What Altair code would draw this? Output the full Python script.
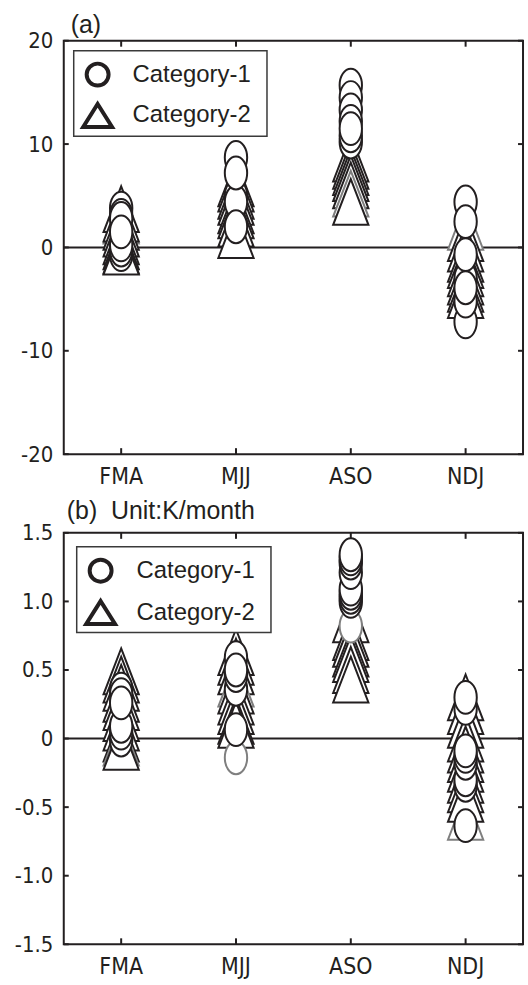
import altair as alt
import pandas as pd

seasons = ["FMA", "MJJ", "ASO", "NDJ"]

# ---------------- panel (a) ----------------
a_triangle = {
    "FMA": [2.6, 3.7, 2.8, 2.0, 1.35, 0.6, 0.1, -0.3, -0.4],
    "MJJ": [6.2, 5.7, 5.0, 4.4, 3.6, 3.1, 2.3, 1.2],
    "ASO": [8.6, 7.9, 7.3, 6.7, 6.0, 5.2, 4.4],
    "NDJ": [2.0, 0.9, -0.1, -1.1, -1.7, -2.5, -3.3, -4.0, -4.6],
}
a_triangle_gray = {"FMA": [0], "MJJ": [], "ASO": [5], "NDJ": [0]}
a_circle = {
    "FMA": [3.8, 3.1, 2.8, -0.7, -0.25, 0.25, 1.5],
    "MJJ": [8.7, 5.0, 4.4, 7.2, 2.0],
    "ASO": [15.7, 14.5, 13.3, 12.2, 10.2, 10.8, 11.5],
    "NDJ": [4.4, -7.2, -5.2, -3.0, 2.5, -0.7, -3.9],
}
a_circle_gray = {"FMA": [], "MJJ": [], "ASO": [], "NDJ": []}
a_ticks = [-20, -10, 0, 10, 20]

# ---------------- panel (b) ----------------
b_triangle = {
    "FMA": [0.49, 0.43, 0.37, 0.29, 0.23, 0.15, 0.08, 0.0, -0.03, -0.06],
    "MJJ": [0.63, 0.56, 0.49, 0.40, 0.35, 0.27, 0.2, 0.13, 0.1],
    "ASO": [0.87, 0.74, 0.69, 0.62, 0.58, 0.5, 0.43],
    "NDJ": [-0.57, 0.3, 0.2, 0.1, 0.0, -0.08, -0.15, -0.22, -0.3, -0.37, -0.44],
}
b_triangle_gray = {"FMA": [8], "MJJ": [3], "ASO": [], "NDJ": [0]}
b_circle = {
    "FMA": [0.36, 0.32, -0.01, 0.04, 0.09, 0.26],
    "MJJ": [0.59, 0.36, 0.46, -0.14, 0.5, 0.065],
    "ASO": [0.82, 1.0, 1.03, 1.06, 1.09, 1.21, 1.28, 1.31, 1.34],
    "NDJ": [0.22, 0.3, -0.34, -0.3, -0.18, -0.13, -0.09, -0.635],
}
b_circle_gray = {"FMA": [], "MJJ": [3], "ASO": [0], "NDJ": []}
b_ticks = [-1.5, -1.0, -0.5, 0, 0.5, 1.0, 1.5]

legend_labels = ["Category-1", "Category-2"]
panel_titles = ["(a)", "(b) \u00a0Unit:K/month"]

# ---------------- styling ----------------
DARK = "#231f20"
GRAY = "#7f7f7f"
FONT = "Liberation Sans, Arial, sans-serif"
NARROW = "Liberation Sans Narrow, Arial Narrow, DejaVu Sans Condensed, Liberation Sans, sans-serif"
W = 461

ELLIPSE = ("M0,-1 C0.3756,-1 0.68,-0.5523 0.68,0 C0.68,0.5523 0.3756,1 0,1 "
           "C-0.3756,1 -0.68,0.5523 -0.68,0 C-0.68,-0.5523 -0.3756,-1 0,-1 Z")
TRI = "M0,-1 L0.77,1 L-0.77,1 Z"
TRI_LEG = "M0,-1 L1.26,1 L-1.26,1 Z"


def marker_df(values, gray_idx):
    rows = []
    for s in seasons:
        for i, v in enumerate(values[s]):
            rows.append({"season": s, "value": v,
                         "tone": "g" if i in gray_idx.get(s, []) else "k",
                         "ord": len(rows)})
    return pd.DataFrame(rows)


def panel(circles, cgray, tris, tgray, domain, ticks, label_expr, H,
          title, title_dx, title_dy, leg, top_pad=False, bottom_pad=False):
    xaxis = alt.Axis(ticks=False, tickSize=0, domain=False, grid=False,
                     labelPadding=11, labelFont=NARROW, labelFontSize=23,
                     labelColor=DARK, labelAngle=0, title=None)
    yaxis = alt.Axis(values=ticks, labelExpr=label_expr, ticks=False, tickSize=0,
                     domain=False, grid=False, labelPadding=11, labelFont=NARROW,
                     labelFontSize=22, labelColor=DARK, labelFlush=False,
                     labelOverlap=False, title=None)
    xs = alt.Scale(domain=seasons)
    ys = alt.Scale(domain=domain, nice=False, zero=False)
    X = alt.X("season:N", scale=xs, sort=seasons, axis=xaxis)
    Y = alt.Y("value:Q", scale=ys, axis=yaxis)
    tone = alt.Stroke("tone:N", scale=alt.Scale(domain=["k", "g"], range=[DARK, GRAY]),
                      legend=None)

    tick_df = pd.DataFrame({"value": ticks})
    season_df = pd.DataFrame({"season": seasons})

    layers = []
    # zero line
    layers.append(alt.Chart(pd.DataFrame({"value": [0]})).mark_rule(
        color=DARK, strokeWidth=2).encode(y=Y, x=alt.value(0), x2=alt.value(W)))
    # inward ticks
    layers.append(alt.Chart(tick_df).mark_rule(color=DARK, strokeWidth=2).encode(
        y=Y, x=alt.value(0), x2=alt.value(5)))
    layers.append(alt.Chart(tick_df).mark_rule(color=DARK, strokeWidth=2).encode(
        y=Y, x=alt.value(W - 5), x2=alt.value(W)))
    layers.append(alt.Chart(season_df).mark_rule(color=DARK, strokeWidth=2).encode(
        x=X, y=alt.value(0), y2=alt.value(6)))
    layers.append(alt.Chart(season_df).mark_rule(color=DARK, strokeWidth=2).encode(
        x=X, y=alt.value(H - 6), y2=alt.value(H)))
    # triangles then circles
    layers.append(alt.Chart(marker_df(tris, tgray)).mark_point(
        shape=TRI, size=2116, fill="white", fillOpacity=1, opacity=1, strokeWidth=2,
        filled=False).encode(x=X, y=Y, stroke=tone, order=alt.Order("ord:Q")))
    layers.append(alt.Chart(marker_df(circles, cgray)).mark_point(
        shape=ELLIPSE, size=1089, fill="white", fillOpacity=1, opacity=1, strokeWidth=2,
        filled=False).encode(x=X, y=Y, stroke=tone, order=alt.Order("ord:Q")))
    # legend box
    lx0, ly0, lx1, ly1, sx, sy1, sy2, tx = leg
    one = pd.DataFrame({"k": [0]})
    layers.append(alt.Chart(one).mark_rect(fill="white", stroke="#3a3a3a",
                                           strokeWidth=1.5).encode(
        x=alt.value(lx0), x2=alt.value(lx1), y=alt.value(ly0), y2=alt.value(ly1)))
    layers.append(alt.Chart(pd.DataFrame({"label": [legend_labels[0]]})).mark_point(
        shape="circle", size=484, fill="white", fillOpacity=1, opacity=1,
        stroke=DARK, strokeWidth=4).encode(x=alt.value(sx), y=alt.value(sy1)))
    layers.append(alt.Chart(pd.DataFrame({"label": [legend_labels[1]]})).mark_point(
        shape=TRI_LEG, size=529, fill="white", fillOpacity=1, opacity=1,
        stroke=DARK, strokeWidth=4).encode(x=alt.value(sx), y=alt.value(sy2)))
    layers.append(alt.Chart(pd.DataFrame({"label": [legend_labels[0]]})).mark_text(
        font=FONT, fontSize=24, color=DARK, align="left", baseline="middle").encode(
        text="label:N", x=alt.value(tx), y=alt.value(sy1)))
    layers.append(alt.Chart(pd.DataFrame({"label": [legend_labels[1]]})).mark_text(
        font=FONT, fontSize=24, color=DARK, align="left", baseline="middle").encode(
        text="label:N", x=alt.value(tx), y=alt.value(sy2)))
    # panel title
    layers.append(alt.Chart(pd.DataFrame({"t": [title]})).mark_text(
        font=FONT, fontSize=25, color=DARK, align="left", baseline="middle").encode(
        text="t:N", x=alt.value(title_dx), y=alt.value(title_dy)))
    # invisible extent markers (white) fixing page margins
    if top_pad:
        layers.append(alt.Chart(one).mark_rule(color="white", strokeWidth=1).encode(
            x=alt.value(-62.5), x2=alt.value(-61.5), y=alt.value(-37.5), y2=alt.value(-37.5)))
        layers.append(alt.Chart(one).mark_rule(color="white", strokeWidth=1).encode(
            x=alt.value(W + 2.5), x2=alt.value(W + 3.5), y=alt.value(10), y2=alt.value(10)))
    if bottom_pad:
        layers.append(alt.Chart(one).mark_rule(color="white", strokeWidth=1).encode(
            x=alt.value(10), x2=alt.value(11), y=alt.value(H + 39.5), y2=alt.value(H + 39.5)))
    return alt.layer(*layers).properties(width=W, height=H)


label_a = "datum.value < 0 ? '-' + format(-datum.value, 'd') : format(datum.value, 'd')"
label_b = ("datum.value == 0 ? '0' : (datum.value < 0 ? '-' + format(-datum.value, '.1f')"
           " : format(datum.value, '.1f'))")

pa = panel(a_circle, a_circle_gray, a_triangle, a_triangle_gray, [-20, 20], a_ticks,
           label_a, 415, panel_titles[0], 7, -15.5,
           (10, 10, 204, 96, 34, 34, 75, 69), top_pad=True)
pb = panel(b_circle, b_circle_gray, b_triangle, b_triangle_gray, [-1.5, 1.5], b_ticks,
           label_b, 413, panel_titles[1], 3, -22,
           (13, 14, 208, 100, 37, 38, 80, 73), bottom_pad=True)

chart = alt.vconcat(pa, pb, spacing=79, bounds="flush").properties(
    padding=0).configure_view(stroke=DARK, strokeWidth=2)

chart.save("out.html", embed_options={"renderer": "svg", "actions": False})
